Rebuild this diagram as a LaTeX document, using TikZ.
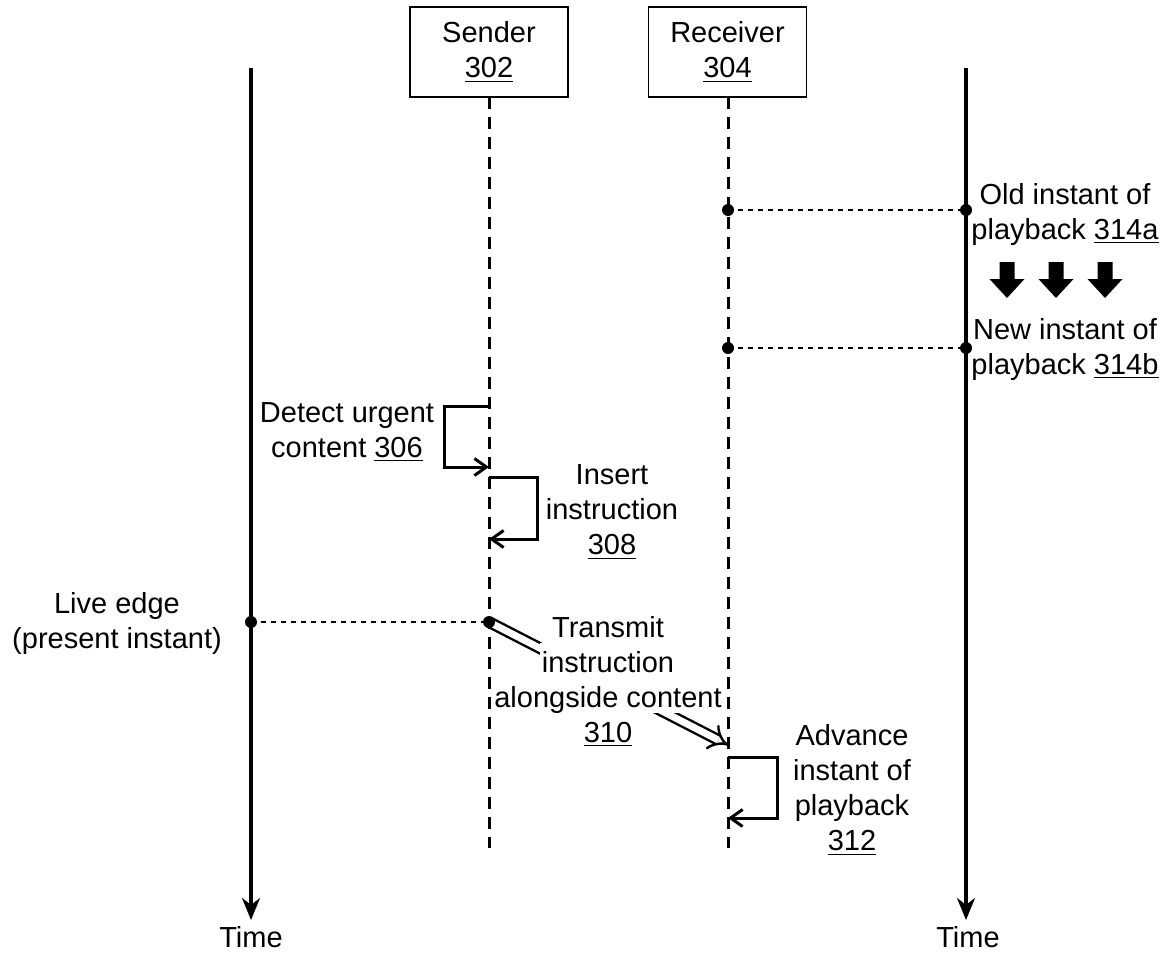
\documentclass[tikz,border=0pt]{standalone}
\usepackage{fontspec}
\setmainfont{Liberation Sans}
\usetikzlibrary{arrows.meta}
\begin{document}
\begin{tikzpicture}[x=0.5pt,y=-0.5pt,
  txt/.style={font=\fontsize{14.5}{17.5}\selectfont, align=center, inner sep=1pt},
  actor/.style={draw, line width=0.75pt, minimum width=79pt, minimum height=45pt, txt},
  timeline/.style={line width=1.6pt, -{Stealth[length=11pt,width=9pt,inset=3.5pt]}},
  lifeline/.style={line width=1.5pt, dash pattern=on 6pt off 4pt},
  guide/.style={line width=0.6pt, dash pattern=on 2.5pt off 2.5pt},
  loopline/.style={line width=1.5pt, -{Straight Barb[length=6pt,width=8.5pt]}},
  dot/.style={circle, fill, inner sep=0pt, minimum size=6pt},
  cover/.style={txt, anchor=base, fill=white, inner ysep=0pt, text height=14.5pt, text depth=3pt}]
\useasboundingbox (0,0) rectangle (1167,953);

% actors
\node[actor] (snd) at (489,52) {Sender\\\underline{302}};
\node[actor] (rcv) at (727.5,52) {Receiver\\\underline{304}};
\coordinate (sTop) at (489,97);
\coordinate (sEnd) at (489,848);
\coordinate (rTop) at (728,97);
\coordinate (rEnd) at (728,848);

% time axes
\coordinate (ltTop) at (251,68);
\coordinate (ltBot) at (251,920);
\coordinate (rtTop) at (966,68);
\coordinate (rtBot) at (966,920);
\draw[timeline] (ltTop) -- (ltBot);
\draw[timeline] (rtTop) -- (rtBot);
\node[txt, anchor=base] (timeL) at (251,947) {Time};
\node[txt, anchor=base] (timeR) at (968,947) {Time};

% points
\coordinate (rOld) at (728,210);
\coordinate (tOld) at (966,210);
\coordinate (rNew) at (728,348);
\coordinate (tNew) at (966,348);
\coordinate (lLive) at (251,622);
\coordinate (sLive) at (489,622);

\draw[guide] (rOld) -- (tOld);
\draw[guide] (rNew) -- (tNew);
\draw[guide] (lLive) -- (sLive);

\node[txt] (old) at (1065,214) {Old instant of\\playback \underline{314a}};
\node[txt] (new) at (1065,349) {New instant of\\playback \underline{314b}};
\node[txt] (live) at (117,623) {Live edge\\(present instant)};

% block arrows
\foreach \cx in {1007,1056,1105}{
  \fill (\cx-7.5,262) -- (\cx+7.5,262) -- (\cx+7.5,279) -- (\cx+17.5,279)
        -- (\cx,298) -- (\cx-17.5,279) -- (\cx-7.5,279) -- cycle;
}

% detect urgent content
\coordinate (d1) at (489,406);
\coordinate (d2) at (489,467);
\draw[loopline] (d1) -- (444,406) -- (444,467) -- (d2);
\node[txt] (detect) at (347,432) {Detect urgent\\content \underline{306}};

% insert instruction
\coordinate (i1) at (489,477);
\coordinate (i2) at (489,539);
\draw[loopline] (i1) -- (537,477) -- (537,539) -- (i2);
\node[txt] (insert) at (612,512) {Insert\\instruction\\\underline{308}};

% transmit
\coordinate (rArr) at (728,745);
\draw[double, line width=1.2pt, double distance=3.5pt, -{Implies}] (sLive) -- (rArr);
\node[cover] (tr1) at (608,637) {Transmit};
\node[cover] (tr2) at (608,672) {instruction};
\node[cover] (tr3) at (608,707) {alongside content};
\node[txt, anchor=base] (tr4) at (608,742) {\underline{310}};

% advance
\coordinate (a1) at (728,757);
\coordinate (a2) at (728,818);
\draw[loopline] (a1) -- (777,757) -- (777,818) -- (a2);
\node[txt] (adv) at (852,790) {Advance\\instant of\\playback\\\underline{312}};

% lifelines
\draw[lifeline] (sTop) -- (sEnd);
\draw[lifeline] (rTop) -- (rEnd);

% dots
\node[dot] at (rOld) {};
\node[dot] at (tOld) {};
\node[dot] at (rNew) {};
\node[dot] at (tNew) {};
\node[dot] at (lLive) {};
\node[dot] at (sLive) {};
\end{tikzpicture}
\end{document}
